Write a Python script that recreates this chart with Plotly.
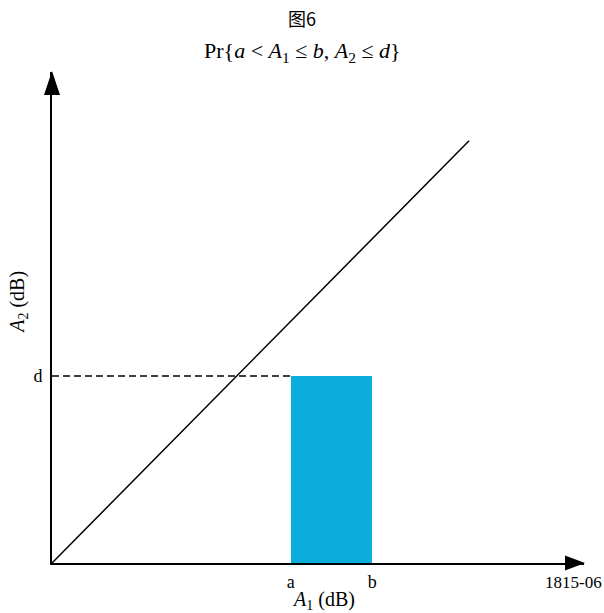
import plotly.graph_objects as go

# Data (axis units)
x_range = [0, 10]
y_range = [0, 10]
a_val, b_val = 4.49, 6.02        # interval on A1
d_val = 3.81                     # threshold on A2
diag_x = [0, 7.84]               # diagonal line
diag_y = [0, 8.6]
tick_x_vals = [a_val, b_val]
tick_x_text = ["a", "b"]
tick_y_vals = [d_val]
tick_y_text = ["d"]
bar_color = "#0BADDA"

SERIF = "Liberation Serif, Times New Roman, serif"

fig = go.Figure()

# Shaded probability region
fig.add_trace(go.Bar(
    x=[(a_val + b_val) / 2], y=[d_val], width=[b_val - a_val], base=[0],
    marker=dict(color=bar_color, line=dict(width=0)), hoverinfo="skip",
    showlegend=False,
))

# Dashed line from axis to d
fig.add_trace(go.Scatter(
    x=[0, a_val], y=[d_val, d_val], mode="lines",
    line=dict(color="black", width=1.5, dash="7px,4px"),
    showlegend=False, hoverinfo="skip",
))

# Diagonal line
fig.add_trace(go.Scatter(
    x=diag_x, y=diag_y, mode="lines",
    line=dict(color="black", width=1.5),
    showlegend=False, hoverinfo="skip",
))

# Arrowheads (pixel-sized, anchored to the axis ends, paper refs so not clipped)
fig.add_shape(type="path", xref="paper", yref="paper", xsizemode="pixel", ysizemode="pixel",
              xanchor=1, yanchor=0,
              path="M1,0 L-19,7.5 L-19,-7.5 Z", fillcolor="black", line=dict(width=0))
fig.add_shape(type="path", xref="paper", yref="paper", xsizemode="pixel", ysizemode="pixel",
              xanchor=0, yanchor=1,
              path="M0,1 L-8,-23 L8,-23 Z", fillcolor="black", line=dict(width=0))

# Titles
fig.add_annotation(text="图6", xref="paper", yref="paper", x=0.5, y=1,
                   xshift=-16, xanchor="center", yanchor="middle", yshift=54, showarrow=False,
                   font=dict(family="Noto Sans CJK SC", size=18, color="black"))
fig.add_annotation(text="Pr{<i>a</i> &lt; <i>A</i><sub>1</sub> ≤ <i>b</i>, <i>A</i><sub>2</sub> ≤ <i>d</i>}",
                   xref="paper", yref="paper", x=0.5, y=1, xshift=-16,
                   xanchor="center", yanchor="middle", yshift=20, showarrow=False,
                   font=dict(family=SERIF, size=22, color="black"))

# Axis titles
fig.add_annotation(text="<i>A</i><sub>1</sub> (dB)", xref="x", yref="paper",
                   x=(a_val + b_val) / 2, xshift=-8, y=0, yshift=-37, xanchor="center", yanchor="middle",
                   showarrow=False, font=dict(family=SERIF, size=20, color="black"))
fig.add_annotation(text="<i>A</i><sub>2</sub> (dB)", xref="paper", yref="y",
                   x=0, y=5.3, xshift=-33, textangle=-90, xanchor="center", yanchor="middle",
                   showarrow=False, font=dict(family=SERIF, size=20, color="black"))

# Figure id
fig.add_annotation(text="1815-06", xref="paper", yref="paper", x=1, y=0,
                   xshift=20, yshift=-19, xanchor="right", yanchor="middle",
                   showarrow=False, font=dict(family=SERIF, size=17, color="black"))

fig.update_layout(
    width=604, height=613,
    margin=dict(l=52, r=20, t=72, b=50),
    paper_bgcolor="white", plot_bgcolor="white",
    bargap=0,
    xaxis=dict(range=x_range, showgrid=False, zeroline=False, showline=True,
               linecolor="black", linewidth=2, tickvals=tick_x_vals, ticktext=tick_x_text,
               ticks="", ticklabelstandoff=1,
               tickfont=dict(family=SERIF, size=18, color="black"), fixedrange=True),
    yaxis=dict(range=y_range, showgrid=False, zeroline=False, showline=True,
               linecolor="black", linewidth=2, tickvals=tick_y_vals, ticktext=tick_y_text,
               ticks="", ticklabelstandoff=4,
               tickfont=dict(family=SERIF, size=18, color="black"), fixedrange=True),
    showlegend=False,
)

fig.write_html("out.html", config={"displayModeBar": False},
               post_script="document.body.style.margin='0';document.body.style.padding='0';")
